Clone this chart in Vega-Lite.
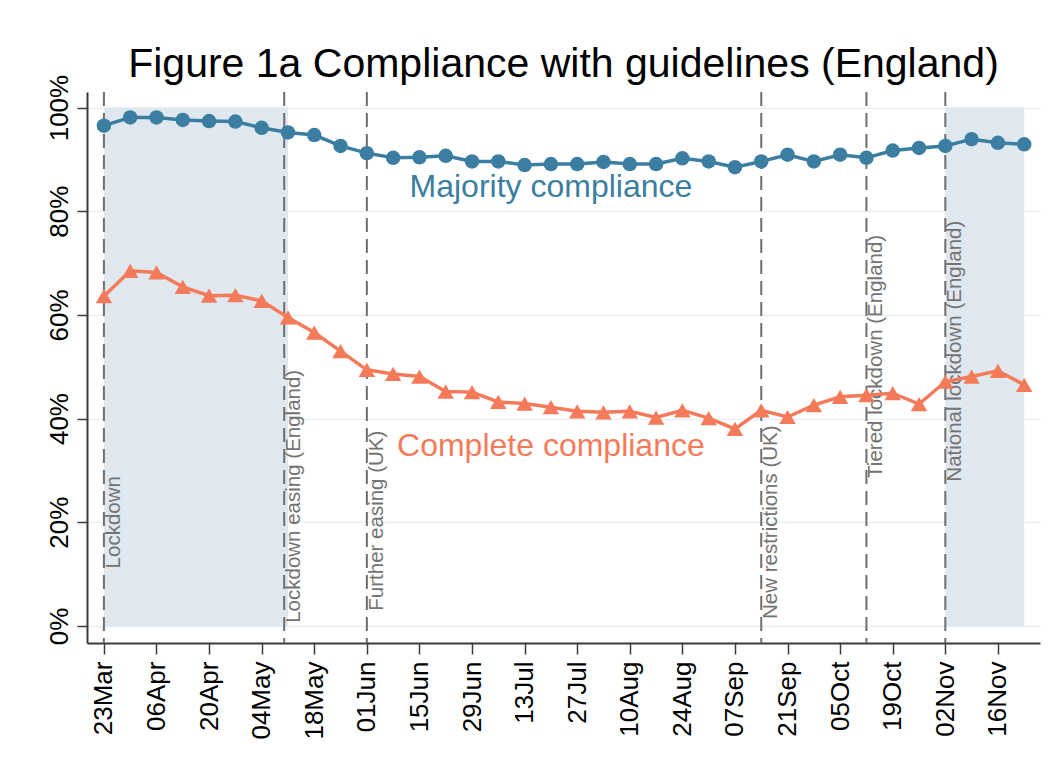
{
  "$schema": "https://vega.github.io/schema/vega-lite/v6.json",
  "width": 953,
  "height": 551,
  "autosize": {"type": "none"},
  "padding": {"left": 87, "top": 92, "right": 11, "bottom": 133},
  "background": "white",
  "config": {
    "view": {"stroke": null},
    "font": "Liberation Sans",
    "title": {"font": "Liberation Sans", "fontSize": 41, "fontWeight": "normal", "color": "black", "anchor": "middle", "frame": "group", "baseline": "alphabetic", "offset": -12}
  },
  "title": "Figure 1a Compliance with guidelines (England)",
  "datasets": {
    "series": [
      {"date": "2020-03-23", "majority": 96.5, "complete": 63.6},
      {"date": "2020-03-30", "majority": 98.1, "complete": 68.5},
      {"date": "2020-04-06", "majority": 98.1, "complete": 68.2},
      {"date": "2020-04-13", "majority": 97.6, "complete": 65.4},
      {"date": "2020-04-20", "majority": 97.4, "complete": 63.7},
      {"date": "2020-04-27", "majority": 97.3, "complete": 63.8},
      {"date": "2020-05-04", "majority": 96.1, "complete": 62.7},
      {"date": "2020-05-11", "majority": 95.2, "complete": 59.5},
      {"date": "2020-05-18", "majority": 94.7, "complete": 56.6},
      {"date": "2020-05-25", "majority": 92.6, "complete": 53.0},
      {"date": "2020-06-01", "majority": 91.2, "complete": 49.4},
      {"date": "2020-06-08", "majority": 90.3, "complete": 48.6},
      {"date": "2020-06-15", "majority": 90.4, "complete": 48.1},
      {"date": "2020-06-22", "majority": 90.7, "complete": 45.2},
      {"date": "2020-06-29", "majority": 89.6, "complete": 45.1},
      {"date": "2020-07-06", "majority": 89.6, "complete": 43.2},
      {"date": "2020-07-13", "majority": 88.9, "complete": 42.9},
      {"date": "2020-07-20", "majority": 89.1, "complete": 42.2},
      {"date": "2020-07-27", "majority": 89.1, "complete": 41.4},
      {"date": "2020-08-03", "majority": 89.5, "complete": 41.2},
      {"date": "2020-08-10", "majority": 89.1, "complete": 41.4},
      {"date": "2020-08-17", "majority": 89.1, "complete": 40.2},
      {"date": "2020-08-24", "majority": 90.2, "complete": 41.6},
      {"date": "2020-08-31", "majority": 89.6, "complete": 40.1},
      {"date": "2020-09-07", "majority": 88.5, "complete": 38.0},
      {"date": "2020-09-14", "majority": 89.6, "complete": 41.6},
      {"date": "2020-09-21", "majority": 90.9, "complete": 40.3},
      {"date": "2020-09-28", "majority": 89.6, "complete": 42.6},
      {"date": "2020-10-05", "majority": 90.9, "complete": 44.2},
      {"date": "2020-10-12", "majority": 90.3, "complete": 44.5},
      {"date": "2020-10-19", "majority": 91.7, "complete": 44.9},
      {"date": "2020-10-26", "majority": 92.2, "complete": 42.8},
      {"date": "2020-11-02", "majority": 92.6, "complete": 47.1},
      {"date": "2020-11-09", "majority": 93.9, "complete": 48.1},
      {"date": "2020-11-16", "majority": 93.2, "complete": 49.2},
      {"date": "2020-11-23", "majority": 92.9, "complete": 46.5}
    ],
    "shades": [
      {"start": "2020-03-23", "end": "2020-05-11", "low": 0, "high": 100},
      {"start": "2020-11-02", "end": "2020-11-23", "low": 0, "high": 100}
    ],
    "events": [
      {"date": "2020-03-23", "label": "Lockdown", "ypos": 20},
      {"date": "2020-05-10", "label": "Lockdown easing (England)", "ypos": 25},
      {"date": "2020-06-01", "label": "Further easing (UK)", "ypos": 20.3},
      {"date": "2020-09-14", "label": "New restrictions (UK)", "ypos": 20},
      {"date": "2020-10-12", "label": "Tiered lockdown (England)", "ypos": 52},
      {"date": "2020-11-02", "label": "National lockdown (England)", "ypos": 53}
    ],
    "serieslabels": [
      {"date": "2020-07-20", "value": 82.7, "label": "Majority compliance", "series": "majority"},
      {"date": "2020-07-20", "value": 32.8, "label": "Complete compliance", "series": "complete"}
    ]
  },
  "layer": [
    {
      "data": {"name": "shades"},
      "mark": {"type": "rect", "color": "#dfe8ee"},
      "encoding": {
        "x": {"field": "start", "type": "temporal"},
        "x2": {"field": "end"},
        "y": {"field": "low", "type": "quantitative"},
        "y2": {"field": "high"}
      }
    },
    {
      "data": {"name": "events"},
      "mark": {"type": "rule", "color": "#6e6e6e", "strokeWidth": 2, "strokeDash": [14, 7]},
      "encoding": {
        "x": {"field": "date", "type": "temporal"}
      }
    },
    {
      "data": {"name": "events"},
      "mark": {"type": "text", "angle": 270, "align": "center", "baseline": "top", "fontSize": 20.5, "color": "#737373", "font": "Liberation Sans"},
      "encoding": {
        "x": {"field": "date", "type": "temporal"},
        "y": {"field": "ypos", "type": "quantitative"},
        "text": {"field": "label"}
      }
    },
    {
      "data": {"name": "series"},
      "mark": {"type": "line", "color": "#3b7ea1", "strokeWidth": 3.5, "point": {"filled": true, "shape": "circle", "size": 210, "color": "#3b7ea1", "opacity": 1}},
      "encoding": {
        "x": {
          "field": "date", "type": "temporal",
          "scale": {"type": "utc", "domain": [{"year": 2020, "month": 3, "date": 18, "hours": 12, "utc": true}, {"year": 2020, "month": 11, "date": 27, "hours": 5, "utc": true}]},
          "axis": {
            "title": null,
            "values": [
              {"year": 2020, "month": 3, "date": 23, "utc": true},
              {"year": 2020, "month": 4, "date": 6, "utc": true},
              {"year": 2020, "month": 4, "date": 20, "utc": true},
              {"year": 2020, "month": 5, "date": 4, "utc": true},
              {"year": 2020, "month": 5, "date": 18, "utc": true},
              {"year": 2020, "month": 6, "date": 1, "utc": true},
              {"year": 2020, "month": 6, "date": 15, "utc": true},
              {"year": 2020, "month": 6, "date": 29, "utc": true},
              {"year": 2020, "month": 7, "date": 13, "utc": true},
              {"year": 2020, "month": 7, "date": 27, "utc": true},
              {"year": 2020, "month": 8, "date": 10, "utc": true},
              {"year": 2020, "month": 8, "date": 24, "utc": true},
              {"year": 2020, "month": 9, "date": 7, "utc": true},
              {"year": 2020, "month": 9, "date": 21, "utc": true},
              {"year": 2020, "month": 10, "date": 5, "utc": true},
              {"year": 2020, "month": 10, "date": 19, "utc": true},
              {"year": 2020, "month": 11, "date": 2, "utc": true},
              {"year": 2020, "month": 11, "date": 16, "utc": true}
            ],
            "format": "%d%b",
            "labelAngle": 270,
            "labelAlign": "right",
            "labelBaseline": "middle",
            "labelFontSize": 26,
            "labelFont": "Liberation Sans",
            "labelColor": "black",
            "labelPadding": 7,
            "labelOverlap": false,
            "labelBound": false,
            "labelFlush": false,
            "tickSize": 11,
            "tickWidth": 1.5,
            "tickColor": "#3a3a3a",
            "domainColor": "#3a3a3a",
            "domainWidth": 2,
            "grid": false
          }
        },
        "y": {
          "field": "majority", "type": "quantitative",
          "scale": {"domain": [-3.3, 103], "nice": false, "zero": false},
          "axis": {
            "title": null,
            "values": [0, 20, 40, 60, 80, 100],
            "labelExpr": "datum.value + '%'",
            "labelAngle": 270,
            "labelAlign": "center",
            "labelBaseline": "alphabetic",
            "labelFontSize": 26,
            "labelFont": "Liberation Sans",
            "labelColor": "black",
            "labelPadding": 10,
            "labelOverlap": false,
            "labelBound": false,
            "labelFlush": false,
            "tickSize": 10,
            "tickWidth": 1.5,
            "tickColor": "#3a3a3a",
            "domainColor": "#3a3a3a",
            "domainWidth": 2,
            "grid": true,
            "gridColor": "#e8f0f3",
            "gridWidth": 1.5
          }
        }
      }
    },
    {
      "data": {"name": "series"},
      "mark": {"type": "line", "color": "#f47a5a", "strokeWidth": 3.5, "point": {"filled": true, "shape": "triangle-up", "size": 270, "color": "#f47a5a", "opacity": 1}},
      "encoding": {
        "x": {"field": "date", "type": "temporal"},
        "y": {"field": "complete", "type": "quantitative"}
      }
    },
    {
      "data": {"name": "serieslabels"},
      "mark": {"type": "text", "align": "center", "baseline": "alphabetic", "fontSize": 32, "font": "Liberation Sans"},
      "encoding": {
        "x": {"field": "date", "type": "temporal"},
        "y": {"field": "value", "type": "quantitative"},
        "text": {"field": "label"},
        "color": {"field": "series", "type": "nominal", "scale": {"domain": ["majority", "complete"], "range": ["#3b7ea1", "#f47a5a"]}, "legend": null}
      }
    }
  ]
}
